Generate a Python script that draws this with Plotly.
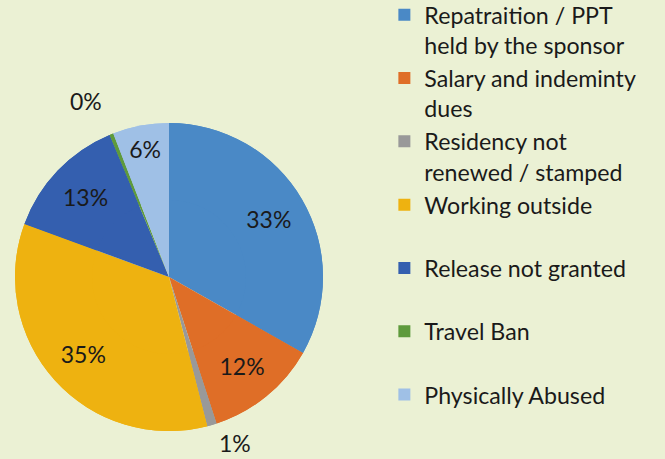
import math
import plotly.graph_objects as go

categories = [
    "Repatraition / PPT<br>held by the sponsor",
    "Salary and indeminty<br>dues",
    "Residency not<br>renewed / stamped",
    "Working outside<br> ",
    "Release not granted<br> ",
    "Travel Ban<br> ",
    "Physically Abused",
]
values = [33.2, 11.8, 1.0, 34.6, 13.1, 0.4, 5.9]
colors = ["#4A89C6", "#DF6E27", "#999999", "#EEB210", "#345FAF", "#5E9A3C", "#9FC0E6"]
outside = [False, False, True, False, False, True, False]

W, H = 665, 459
CX, CY, R = 169, 277, 154  # pie centre / radius in px (from top-left)
dom = dict(x=[(CX - R) / W, (CX + R) / W], y=[(H - CY - R) / H, (H - CY + R) / H])

total = sum(values)
pct = [f"{round(v / total * 100)}%" for v in values]
inside_text = [("" if o else p) for p, o in zip(pct, outside)]

# full pie underneath (fills the centre)
fig = go.Figure(go.Pie(
    labels=categories,
    values=values,
    sort=False,
    direction="clockwise",
    rotation=0,
    marker=dict(colors=colors, line=dict(width=0)),
    textinfo="none",
    domain=dom,
    showlegend=False,
    hoverinfo="skip",
))

# ring on top carries the percentage labels at ~3/4 of the radius
fig.add_trace(go.Pie(
    labels=categories,
    values=values,
    sort=False,
    direction="clockwise",
    rotation=0,
    hole=0.5,
    marker=dict(colors=colors, line=dict(width=0)),
    text=inside_text,
    textinfo="text",
    textposition="inside",
    insidetextorientation="horizontal",
    textfont=dict(family="Lato", size=23, color="#1A1A1A"),
    domain=dom,
    hoverinfo="label+percent",
))

# outside labels for the tiny slices, placed from the slice mid-angle
cum = 0.0
for v, p, o in zip(values, pct, outside):
    mid = (cum + v / 2) / total * 2 * math.pi
    cum += v
    if not o:
        continue
    s, c = math.sin(mid), math.cos(mid)
    rr = R * 1.12
    px = CX + rr * s
    py = CY - rr * c
    fig.add_annotation(
        x=px / W, y=1 - py / H, xref="paper", yref="paper",
        text=p, showarrow=False,
        xanchor="left" if s > 0 else "right",
        yanchor="bottom" if c > 0 else "middle",
        font=dict(family="Lato", size=23, color="#1A1A1A"),
    )

fig.update_layout(
    width=W, height=H,
    margin=dict(l=0, r=0, t=0, b=0, autoexpand=False),
    paper_bgcolor="#EBF1D4",
    plot_bgcolor="#EBF1D4",
    legend=dict(
        x=0.578, y=1.015, xanchor="left", yanchor="top",
        font=dict(family="Lato", size=23.2, color="#1A1A1A"),
        bgcolor="rgba(0,0,0,0)",
        itemwidth=30,
        maxheight=1000,
        valign="top",
    ),
    showlegend=True,
)

fig.write_html(
    "out.html",
    config={"displayModeBar": False},
    post_script="document.body.style.margin='0';",
)
